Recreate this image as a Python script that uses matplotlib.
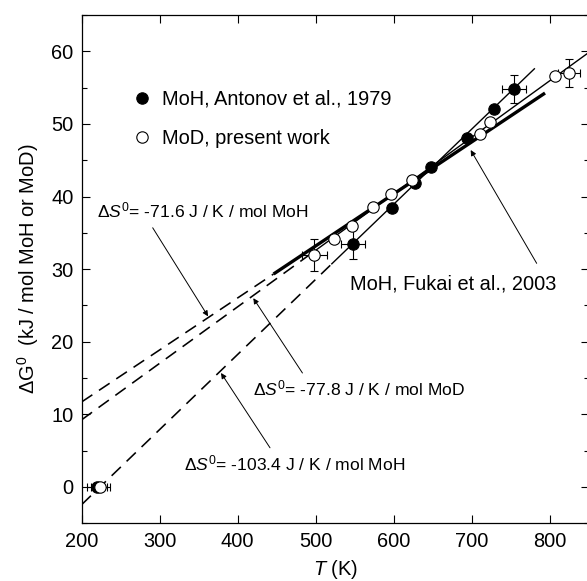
import numpy as np
import matplotlib.pyplot as plt
from matplotlib.ticker import MultipleLocator

plt.rcParams['font.family'] = ['Liberation Sans', 'DejaVu Sans']
plt.rcParams['mathtext.fontset'] = 'custom'
plt.rcParams['mathtext.rm'] = 'Liberation Sans'
plt.rcParams['mathtext.it'] = 'Liberation Sans:italic'

# MoH, Antonov et al., 1979 (filled circles)
t_moh = [220, 548, 598, 627, 648, 694, 729, 754]
g_moh = [0.0, 33.5, 38.4, 41.9, 44.0, 48.1, 52.0, 54.8]

# MoD, present work (open circles)
t_mod = [224, 498, 523, 547, 573, 597, 624, 710, 724, 807, 825]
g_mod = [0.0, 31.9, 34.2, 35.9, 38.6, 40.4, 42.3, 48.6, 50.2, 56.6, 57.0]

# points carrying error bars
t_moh_err = [220, 548, 754]
g_moh_err = [0.0, 33.5, 54.8]
dt_moh = [13, 15, 15]
dg_moh = [0.0, 2.1, 1.9]

t_mod_err = [224, 498, 825]
g_mod_err = [0.0, 31.9, 57.0]
dt_mod = [12, 16, 14]
dg_mod = [0.0, 2.2, 1.9]

# linear fits dG = dH - T*dS : Fukai 2003 (MoH), present work (MoD), Antonov 1979 (MoH)
ds_fit = [-71.6, -77.8, -103.4]      # J / K / mol
dh_fit = [-2.6, -6.3, -23.1]         # kJ / mol
t_lo_fit = [446, 490, 520]           # solid part of each line, dashed below down to 200 K
t_hi_fit = [794, 850, 781]
lw_fit = [2.4, 1.0, 1.0]

fig = plt.figure(figsize=(5.87, 5.81), dpi=100)
ax = fig.add_axes([0.1392, 0.0993, 0.8637, 0.8749])

for ds, dh, lo, hi, lw in zip(ds_fit, dh_fit, t_lo_fit, t_hi_fit, lw_fit):
    ts = np.array([lo, hi])
    ax.plot(ts, dh - ts * ds / 1000.0, color='k', lw=lw, solid_capstyle='butt', zorder=2)
    td = np.array([200, lo])
    ax.plot(td, dh - td * ds / 1000.0, color='k', lw=1.15, dashes=(8, 5), zorder=2)

ax.errorbar(t_moh_err, g_moh_err, xerr=dt_moh, yerr=dg_moh, fmt='none',
            ecolor='k', elinewidth=0.8, capsize=3, capthick=0.8, zorder=3)
ax.errorbar(t_mod_err, g_mod_err, xerr=dt_mod, yerr=dg_mod, fmt='none',
            ecolor='k', elinewidth=0.8, capsize=3, capthick=0.8, zorder=3)

ax.plot(t_moh, g_moh, 'o', ms=8.2, mfc='k', mec='k', mew=0.8, ls='none',
        label='MoH, Antonov et al., 1979', zorder=4)
ax.plot(t_mod, g_mod, 'o', ms=8.2, mfc='white', mec='k', mew=0.8, ls='none',
        label='MoD, present work', zorder=5)

ax.legend(loc='upper left', bbox_to_anchor=(0.099, 0.853), frameon=False,
          fontsize=14.4, handlelength=1.0, handletextpad=0.5, labelspacing=1.0,
          borderpad=0, borderaxespad=0)

arrow = dict(arrowstyle='-|>', color='k', lw=0.7, mutation_scale=8,
             shrinkA=0, shrinkB=0)
ann_size = 12.6
ax.annotate('', xy=(362, 23.5), xytext=(291, 35.7), arrowprops=arrow)
ax.text(219, 38.1, r'$\Delta S^0$= -71.6 J / K / mol MoH', fontsize=ann_size, va='center')
ax.annotate('', xy=(420, 26.0), xytext=(483, 15.7), arrowprops=arrow)
ax.text(420, 13.6, r'$\Delta S^0$= -77.8 J / K / mol MoD', fontsize=ann_size, va='center')
ax.annotate('', xy=(378.6, 15.7), xytext=(441.4, 5.4), arrowprops=arrow)
ax.text(331, 3.3, r'$\Delta S^0$= -103.4 J / K / mol MoH', fontsize=ann_size, va='center')
ax.annotate('', xy=(698.7, 46.4), xytext=(783.3, 30.8), arrowprops=arrow)
ax.text(544, 28.0, 'MoH, Fukai et al., 2003', fontsize=14.4, va='center')

ax.set_xlim(200, 850)
ax.set_ylim(-5, 65)
ax.set_xticks([200, 300, 400, 500, 600, 700, 800])
ax.set_yticks([0, 10, 20, 30, 40, 50, 60])
ax.yaxis.set_minor_locator(MultipleLocator(5))
ax.tick_params(which='both', direction='in', top=True, right=True,
               labelsize=14.4, width=0.8, pad=6)
ax.tick_params(which='major', length=6)
ax.tick_params(which='minor', length=3.6)
for sp in ax.spines.values():
    sp.set_linewidth(0.9)

ax.set_xlabel(r'$T$ (K)', fontsize=14.4, labelpad=5)
ax.set_ylabel(r'$\Delta$G$^0$  (kJ / mol MoH or MoD)', fontsize=14.4, labelpad=7)

fig.savefig('out.png', dpi=100)
